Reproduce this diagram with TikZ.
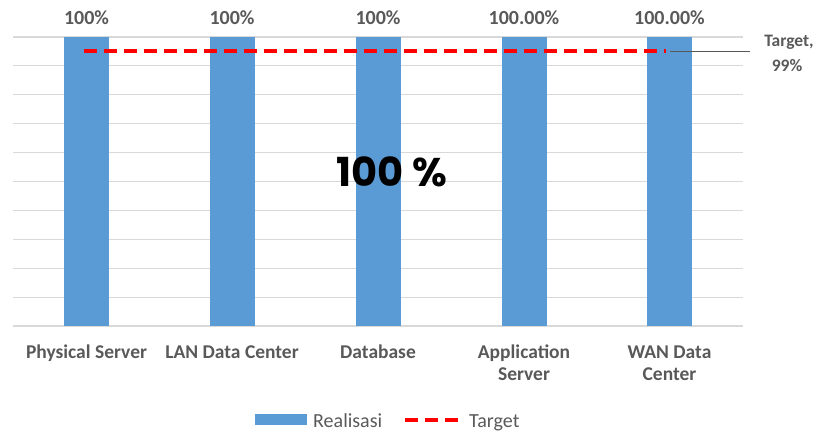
\documentclass[tikz,border=0pt]{standalone}
\usepackage{fontspec}
\setmainfont{Carlito}
\newfontfamily\bigfont{Poppins}
\definecolor{barblue}{HTML}{5B9BD5}
\definecolor{gridgray}{HTML}{D9D9D9}
\definecolor{txtgray}{HTML}{595959}
\definecolor{tgtred}{HTML}{FF0000}
\begin{document}
\begin{tikzpicture}[x=1pt,y=-1pt,
  grid/.style={draw=gridgray,line width=1.2pt},
  bar/.style={fill=barblue},
  tgtline/.style={draw=tgtred,line width=4pt,dash pattern=on 13pt off 7pt},
  vallabel/.style={font=\fontsize{20}{22}\selectfont\bfseries,text=txtgray,anchor=base,inner sep=0pt},
  catlabel/.style={font=\fontsize{19.5}{22}\selectfont\bfseries,text=txtgray,anchor=base,inner sep=0pt},
  leglabel/.style={font=\fontsize{20}{22}\selectfont,text=txtgray,anchor=base west,inner sep=0pt},
  tgtlabel/.style={font=\fontsize{17.5}{20}\selectfont\bfseries,text=txtgray,anchor=base,inner sep=0pt}]
\useasboundingbox (0,0) rectangle (820,433);
% horizontal gridlines, 10% apart
\foreach \i in {0,...,10}
  \draw[grid] (13,{37+\i*28.9}) -- (743,{37+\i*28.9});
% bars (all at 100%)
\foreach \c in {86.5,232,378,524,669.5}
  \fill[bar] ({\c-22.5},37) rectangle ({\c+22.5},326);
% target line with its leader to the data label
\coordinate (t0) at (84,51);
\coordinate (t1) at (666,51);
\coordinate (l0) at (670,51);
\coordinate (l1) at (750,51);
\draw[tgtline] (t0) -- (t1);
\draw[txtgray,line width=0.8pt] (l0) -- (l1);
\node[tgtlabel] (tl1) at (789,47) {Target,};
\node[tgtlabel] (tl2) at (787,72) {99\%};
% value labels
\node[vallabel] (v1) at (86.5,25) {100\%};
\node[vallabel] (v2) at (232,25) {100\%};
\node[vallabel] (v3) at (378,25) {100\%};
\node[vallabel] (v4) at (524,25) {100.00\%};
\node[vallabel] (v5) at (669.5,25) {100.00\%};
% category labels
\node[catlabel] (c1) at (86.5,358) {Physical Server};
\node[catlabel] (c2) at (232,358) {LAN Data Center};
\node[catlabel] (c3) at (378,358) {Database};
\node[catlabel] (c4) at (524,358) {Application};
\node[catlabel] (c4b) at (524,380) {Server};
\node[catlabel] (c5) at (669.5,358) {WAN Data};
\node[catlabel] (c5b) at (669.5,380) {Center};
% overall figure
\node[font=\bigfont\fontsize{40}{44}\selectfont\bfseries,anchor=base,inner sep=0pt] (big) at (392,187) {100 \%};
% legend
\fill[bar] (255,414) rectangle (307,425);
\node[leglabel] (lg1) at (313,427) {Realisasi};
\coordinate (lt0) at (405,420);
\coordinate (lt1) at (463,420);
\draw[tgtline] (lt0) -- (lt1);
\node[leglabel] (lg2) at (469,427) {Target};
\end{tikzpicture}
\end{document}
